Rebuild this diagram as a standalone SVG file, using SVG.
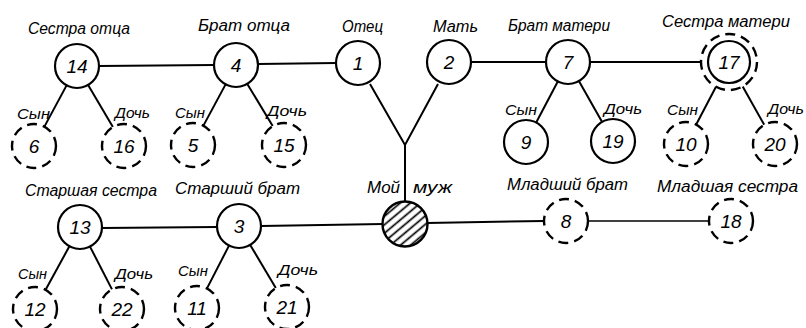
<svg xmlns="http://www.w3.org/2000/svg" width="806" height="328" viewBox="0 0 806 328">
<style>
text{font-family:"Liberation Sans","DejaVu Sans",sans-serif;font-style:italic;fill:#000}
.lbl{font-size:16px}
.sm{font-size:14px}
.num{font-size:19px;text-anchor:middle}
.n{fill:#fff;stroke:#000;stroke-width:2.2}
.d{fill:#fff;stroke:#000;stroke-width:2.4;stroke-dasharray:10 6}
.c line,.c path{stroke:#000;stroke-width:2;fill:none}
</style>
<defs>
<pattern id="hatch" patternUnits="userSpaceOnUse" width="6.5" height="6.5" patternTransform="rotate(-40)">
<rect width="6.5" height="6.5" fill="#fff"/>
<line x1="0" y1="3.25" x2="6.5" y2="3.25" stroke="#000" stroke-width="1.7"/>
</pattern>
</defs>
<g class="c" id="connectors">
<line x1="99" y1="66" x2="214" y2="65"/>
<line x1="258" y1="64" x2="336" y2="63"/>
<line x1="471" y1="62" x2="546" y2="62"/>
<line x1="590" y1="62" x2="701" y2="62"/>
<path d="M370 84 L405 145 L438 84 M405 145 L405 202"/>
<line x1="102" y1="228" x2="217" y2="227"/>
<line x1="261" y1="226" x2="383" y2="224"/>
<line x1="427" y1="223" x2="544" y2="221"/>
<line x1="588" y1="221" x2="709" y2="221" style="stroke-width:1.6"/>
<line x1="66.6" y1="85.4" x2="44.4" y2="126.6"/>
<line x1="88.1" y1="85" x2="112.9" y2="127"/>
<line x1="225.6" y1="84.4" x2="203.4" y2="125.6"/>
<line x1="247.3" y1="83.9" x2="272.7" y2="126.1"/>
<line x1="557.8" y1="81.5" x2="536.2" y2="122.5"/>
<line x1="578.9" y1="81.1" x2="602.1" y2="121.9"/>
<line x1="716" y1="86.8" x2="696.2" y2="124.5"/>
<line x1="742.7" y1="86.4" x2="764.2" y2="124.8"/>
<line x1="69.4" y1="246.3" x2="45.6" y2="289.7"/>
<line x1="90" y1="246.6" x2="112" y2="289.4"/>
<line x1="229" y1="245.6" x2="207" y2="288.4"/>
<line x1="250.2" y1="244.9" x2="275.8" y2="288.1"/>
</g>
<g id="labels-children">
<text class="sm" x="17" y="119" textLength="33" lengthAdjust="spacingAndGlyphs">Сын</text>
<text class="sm" x="115" y="118" textLength="35" lengthAdjust="spacingAndGlyphs">Дочь</text>
<text class="sm" x="175" y="118" textLength="30" lengthAdjust="spacingAndGlyphs">Сын</text>
<text class="sm" x="267" y="116" textLength="40" lengthAdjust="spacingAndGlyphs">Дочь</text>
<text class="sm" x="505" y="115" textLength="32" lengthAdjust="spacingAndGlyphs">Сын</text>
<text class="sm" x="604" y="114" textLength="38" lengthAdjust="spacingAndGlyphs">Дочь</text>
<text class="sm" x="667" y="115" textLength="31" lengthAdjust="spacingAndGlyphs">Сын</text>
<text class="sm" x="768" y="114" textLength="36" lengthAdjust="spacingAndGlyphs">Дочь</text>
<text class="sm" x="18" y="279" textLength="29" lengthAdjust="spacingAndGlyphs">Сын</text>
<text class="sm" x="115" y="279" textLength="38" lengthAdjust="spacingAndGlyphs">Дочь</text>
<text class="sm" x="178" y="276" textLength="30" lengthAdjust="spacingAndGlyphs">Сын</text>
<text class="sm" x="278" y="275" textLength="40" lengthAdjust="spacingAndGlyphs">Дочь</text>
</g>
<g id="n14"><text class="lbl" x="28" y="34" textLength="102" lengthAdjust="spacingAndGlyphs">Сестра отца</text><circle class="n" cx="77" cy="66" r="22"/><text class="num" x="77" y="73">14</text></g>
<g id="n4"><text class="lbl" x="198" y="31" textLength="92" lengthAdjust="spacingAndGlyphs">Брат отца</text><circle class="n" cx="236" cy="65" r="22"/><text class="num" x="236" y="72">4</text></g>
<g id="n1"><text class="lbl" x="342" y="32" textLength="41" lengthAdjust="spacingAndGlyphs">Отец</text><circle class="n" cx="358" cy="63" r="22"/><text class="num" x="358" y="70">1</text></g>
<g id="n2"><text class="lbl" x="433" y="32" textLength="45" lengthAdjust="spacingAndGlyphs">Мать</text><circle class="n" cx="449" cy="62" r="22"/><text class="num" x="449" y="69">2</text></g>
<g id="n7"><text class="lbl" x="508" y="31" textLength="102" lengthAdjust="spacingAndGlyphs">Брат матери</text><circle class="n" cx="568" cy="62" r="22"/><text class="num" x="568" y="69">7</text></g>
<g id="n17"><text class="lbl" x="662" y="27" textLength="128" lengthAdjust="spacingAndGlyphs">Сестра матери</text><circle class="d" cx="729" cy="62" r="28"/><circle class="n" cx="729" cy="62" r="21"/><text class="num" x="729" y="69">17</text></g>
<g id="n6"><circle class="d" cx="34" cy="146" r="22"/><text class="num" x="34" y="153">6</text></g>
<g id="n16"><circle class="d" cx="124" cy="146" r="22"/><text class="num" x="124" y="153">16</text></g>
<g id="n5"><circle class="d" cx="193" cy="145" r="22"/><text class="num" x="193" y="152">5</text></g>
<g id="n15"><circle class="d" cx="284" cy="145" r="22"/><text class="num" x="284" y="152">15</text></g>
<g id="n9"><circle class="n" cx="526" cy="142" r="22"/><text class="num" x="526" y="149">9</text></g>
<g id="n19"><circle class="n" cx="613" cy="141" r="22"/><text class="num" x="613" y="148">19</text></g>
<g id="n10"><circle class="d" cx="686" cy="144" r="22"/><text class="num" x="686" y="151">10</text></g>
<g id="n20"><circle class="d" cx="775" cy="144" r="22"/><text class="num" x="775" y="151">20</text></g>
<g id="n13"><text class="lbl" x="25" y="196" textLength="132" lengthAdjust="spacingAndGlyphs">Старшая сестра</text><circle class="n" cx="80" cy="227" r="22"/><text class="num" x="80" y="234">13</text></g>
<g id="n3"><text class="lbl" x="175" y="194" textLength="125" lengthAdjust="spacingAndGlyphs">Старший брат</text><circle class="n" cx="239" cy="226" r="22"/><text class="num" x="239" y="233">3</text></g>
<g id="husband"><text class="lbl" y="193"><tspan x="367" textLength="33" lengthAdjust="spacingAndGlyphs">Мой</tspan> <tspan x="413" textLength="39" lengthAdjust="spacingAndGlyphs">муж</tspan></text><circle cx="405" cy="224" r="22.5" fill="url(#hatch)" stroke="#000" stroke-width="2.4"/></g>
<g id="n8"><text class="lbl" x="507" y="190" textLength="121" lengthAdjust="spacingAndGlyphs">Младший брат</text><circle class="d" cx="566" cy="221" r="22"/><text class="num" x="566" y="228">8</text></g>
<g id="n18"><text class="lbl" x="657" y="192" textLength="141" lengthAdjust="spacingAndGlyphs">Младшая сестра</text><circle class="d" cx="731" cy="221" r="22"/><text class="num" x="731" y="228">18</text></g>
<g id="n12"><circle class="d" cx="35" cy="309" r="22"/><text class="num" x="35" y="316">12</text></g>
<g id="n22"><circle class="d" cx="122" cy="309" r="22"/><text class="num" x="122" y="316">22</text></g>
<g id="n11"><circle class="d" cx="197" cy="308" r="22"/><text class="num" x="197" y="315">11</text></g>
<g id="n21"><circle class="d" cx="287" cy="307" r="22"/><text class="num" x="287" y="314">21</text></g>
</svg>
